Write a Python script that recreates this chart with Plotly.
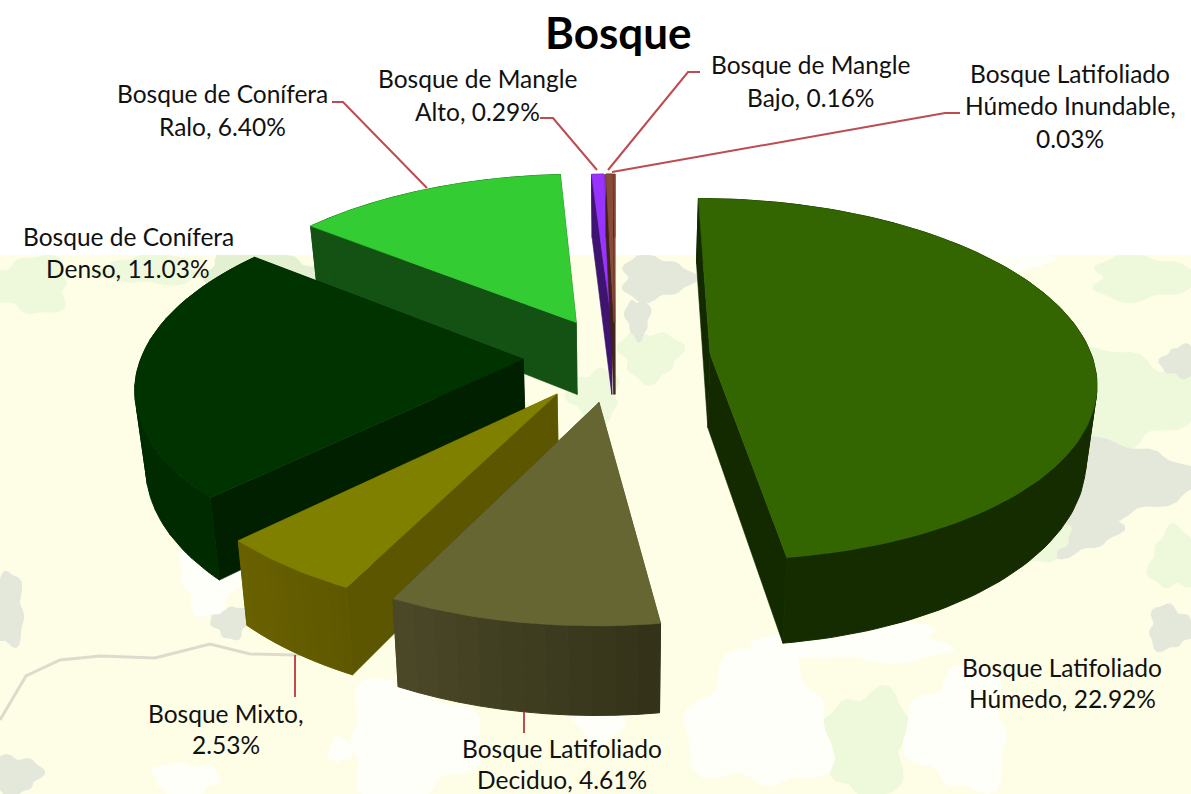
import math
import plotly.graph_objects as go

# ---- data ----
categories = ["Bosque Latifoliado Húmedo", "Bosque Latifoliado Deciduo", "Bosque Mixto",
              "Bosque de Conífera Denso", "Bosque de Conífera Ralo", "Bosque de Mangle Alto",
              "Bosque de Mangle Bajo", "Bosque Latifoliado Húmedo Inundable"]
values = [22.92, 4.61, 2.53, 11.03, 6.40, 0.29, 0.16, 0.03]
title_text = "Bosque"

# ---- styles ----
pulls = [0.25, 0.25, 0.25, 0.24, 0.225, 0.20, 0.20, 0.20]
top_colors = ["#336600", "#666633", "#808000", "#003300", "#33cc33", "#9933ff", "#8a4a38", "#8a4a38"]
side_colors = ["#132900", "#3a3a1c", "#5c5600", "#002000", "#145214", "#3f1470", "#40201a", "#40201a"]
wall_right = ["#142b00", "#34331a", "#5f5800", "#002a00", "#145214", "#3f1470", "#40201a", "#40201a"]
wall_left = ["#152b00", "#4c4a28", "#6a6200", "#002a00", "#145214", "#3f1470", "#40201a", "#40201a"]
draw_order = [4, 5, 6, 7, 0, 3, 2, 1]
label_lines = [
    (["Bosque Latifoliado", "Húmedo, 22.92%"], 1062, [667, 698]),
    (["Bosque Latifoliado", "Deciduo, 4.61%"], 562, [748, 779]),
    (["Bosque Mixto,", "2.53%"], 226, [713, 744]),
    (["Bosque de Conífera", "Denso, 11.03%"], 128, [236, 268]),
    (["Bosque de Conífera", "Ralo, 6.40%"], 222, [93, 126]),
    (["Bosque de Mangle", "Alto, 0.29%"], 477, [78, 111]),
    (["Bosque de Mangle", "Bajo, 0.16%"], 810, [64, 97]),
    (["Bosque Latifoliado", "Húmedo Inundable,", "0.03%"], 1070, [73, 105, 138]),
]
leaders = [
    ([332, 343, 427], [102, 102, 188]), ([540, 553, 597], [118, 118, 170]),
    ([700, 688, 608], [72, 72, 170]), ([960, 945, 612], [113, 113, 172]),
    ([295, 295], [655, 697]), ([524, 524], [712, 733]),
]

# projection of the pie plane
CX, CY, A, B, K, D, SHRINK = 615, 357, 382, 178, 0.14, 74, 0.977


def project(x, y):
    w = 1 + K * y
    return CX + A * x / w, CY - B * y / w, w


def bottom(x, y):
    sx, sy, w = project(x, y)
    return CX + (sx - CX) * SHRINK, sy + D / w


def mix(c1, c2, t):
    a = [int(c1[i:i + 2], 16) for i in (1, 3, 5)]
    b = [int(c2[i:i + 2], 16) for i in (1, 3, 5)]
    return "#%02x%02x%02x" % tuple(round(p + (q - p) * t) for p, q in zip(a, b))


def poly(fig, xs, ys, color, name, lw=0.6):
    fig.add_trace(go.Scatter(x=xs + xs[:1], y=ys + ys[:1], mode="lines", fill="toself",
                             fillcolor=color, line=dict(color=color, width=lw),
                             name=name, hoverinfo="name", showlegend=False))


total = sum(values)
spans = []
acc = 0.0
for v in values:
    spans.append((acc, acc + v / total * 2 * math.pi))
    acc += v / total * 2 * math.pi

fig = go.Figure()

for i in draw_order:
    a0, a1 = spans[i]
    mid = (a0 + a1) / 2
    ax, ay = pulls[i] * math.sin(mid), pulls[i] * math.cos(mid)
    n = max(2, int((a1 - a0) * 40))
    pts = [(ax + math.sin(a0 + (a1 - a0) * j / n), ay + math.cos(a0 + (a1 - a0) * j / n)) for j in range(n + 1)]
    name = categories[i]
    # radial side walls
    for px, py in (pts[-1], pts[0]):
        t0 = project(ax, ay); t1 = project(px, py)
        b1 = bottom(px, py); b0 = bottom(ax, ay)
        poly(fig, [t0[0], t1[0], b1[0], b0[0]], [t0[1], t1[1], b1[1], b0[1]], side_colors[i], name)
    # outer wall in shaded strips
    tp = [project(*p) for p in pts]
    bt = [bottom(*p) for p in pts]
    step = max(1, n // 10)
    for j in range(0, n, step):
        stp, sbt = tp[j:j + step + 1], bt[j:j + step + 1]
        poly(fig, [p[0] for p in stp] + [p[0] for p in sbt[::-1]],
             [p[1] for p in stp] + [p[1] for p in sbt[::-1]],
             mix(wall_right[i], wall_left[i], j / n), name, lw=1)
    # top face
    tp = [project(ax, ay)] + tp
    poly(fig, [p[0] for p in tp], [p[1] for p in tp], top_colors[i], name)

for xs, ys in leaders:
    fig.add_trace(go.Scatter(x=xs, y=ys, mode="lines", line=dict(color="#bd4b4f", width=2),
                             hoverinfo="skip", showlegend=False))

annotations = [dict(x=618, y=32, text=title_text, showarrow=False, xanchor="center", yanchor="middle",
                    font=dict(family="Lato", size=44, color="black", weight="bold"))]
for lines, cx, ys in label_lines:
    for text, y in zip(lines, ys):
        annotations.append(dict(x=cx, y=y, text=text, showarrow=False, xanchor="center", yanchor="middle",
                                font=dict(family="Lato", size=24.5, color="#111111")))

# faded map behind the pie: decoration only
G1, G2, G3, W = "#eef8da", "#e4f0d2", "#e4e8da", "#fffffa"
blobs = [
    (30, 285, 40, 28, G1), (265, 280, 70, 28, G2), (365, 295, 35, 35, G1), (150, 270, 50, 15, G1),
    (505, 278, 55, 22, G3), (655, 278, 35, 22, G3), (650, 355, 30, 25, G1), (638, 318, 12, 20, G3),
    (595, 395, 25, 25, G1), (5, 610, 20, 35, G3), (230, 622, 18, 16, G3), (15, 775, 25, 20, G3),
    (1145, 278, 55, 22, G1), (1120, 400, 70, 50, G1), (1180, 362, 18, 16, G3), (1120, 480, 70, 38, G3),
    (1070, 530, 45, 25, G3), (1040, 540, 30, 20, G1), (865, 745, 45, 55, G1), (1170, 628, 22, 22, G3),
    (1175, 560, 25, 30, G1), (760, 720, 70, 70, W), (860, 640, 90, 22, W), (410, 740, 65, 60, W),
    (960, 730, 50, 60, W), (210, 578, 30, 35, W), (1020, 260, 30, 10, W), (185, 780, 32, 18, W),
    (340, 750, 12, 12, W), (600, 700, 35, 40, W),
]


def blob_path(cx, cy, rx, ry):
    pts = []
    for j in range(40):
        th = 2 * math.pi * j / 40
        r = 1 + 0.16 * math.sin(3 * th + cx) + 0.09 * math.sin(7 * th + cy)
        pts.append(f"{cx + rx * r * math.cos(th):.1f},{min(794, max(255, cy + ry * r * math.sin(th))):.1f}")
    return "M" + " L".join(pts) + " Z"


shapes = [dict(type="rect", x0=0, x1=1191, y0=255, y1=794, fillcolor="#fefee6", line_width=0, layer="below")]
for cx, cy, rx, ry, c in blobs:
    shapes.append(dict(type="path", path=blob_path(cx, cy, rx, ry), fillcolor=c, line_width=0, layer="below"))
road_x = [0, 26, 60, 100, 155, 210, 250, 295, 340]
road_y = [720, 676, 660, 656, 658, 644, 654, 655, 650]
shapes.append(dict(type="path", layer="below", line=dict(color="#dcdccc", width=3),
                   path="M" + " L".join(f"{x},{y}" for x, y in zip(road_x, road_y))))

fig.update_layout(
    width=1191, height=794, margin=dict(l=0, r=0, t=0, b=0), paper_bgcolor="white", plot_bgcolor="white",
    xaxis=dict(range=[0, 1191], visible=False, fixedrange=True),
    yaxis=dict(range=[794, 0], visible=False, fixedrange=True),
    showlegend=False, annotations=annotations, shapes=shapes,
)
fig.write_html("out.html", config={"displayModeBar": False},
               post_script="document.body.style.margin='0';document.documentElement.style.overflow='hidden';")
